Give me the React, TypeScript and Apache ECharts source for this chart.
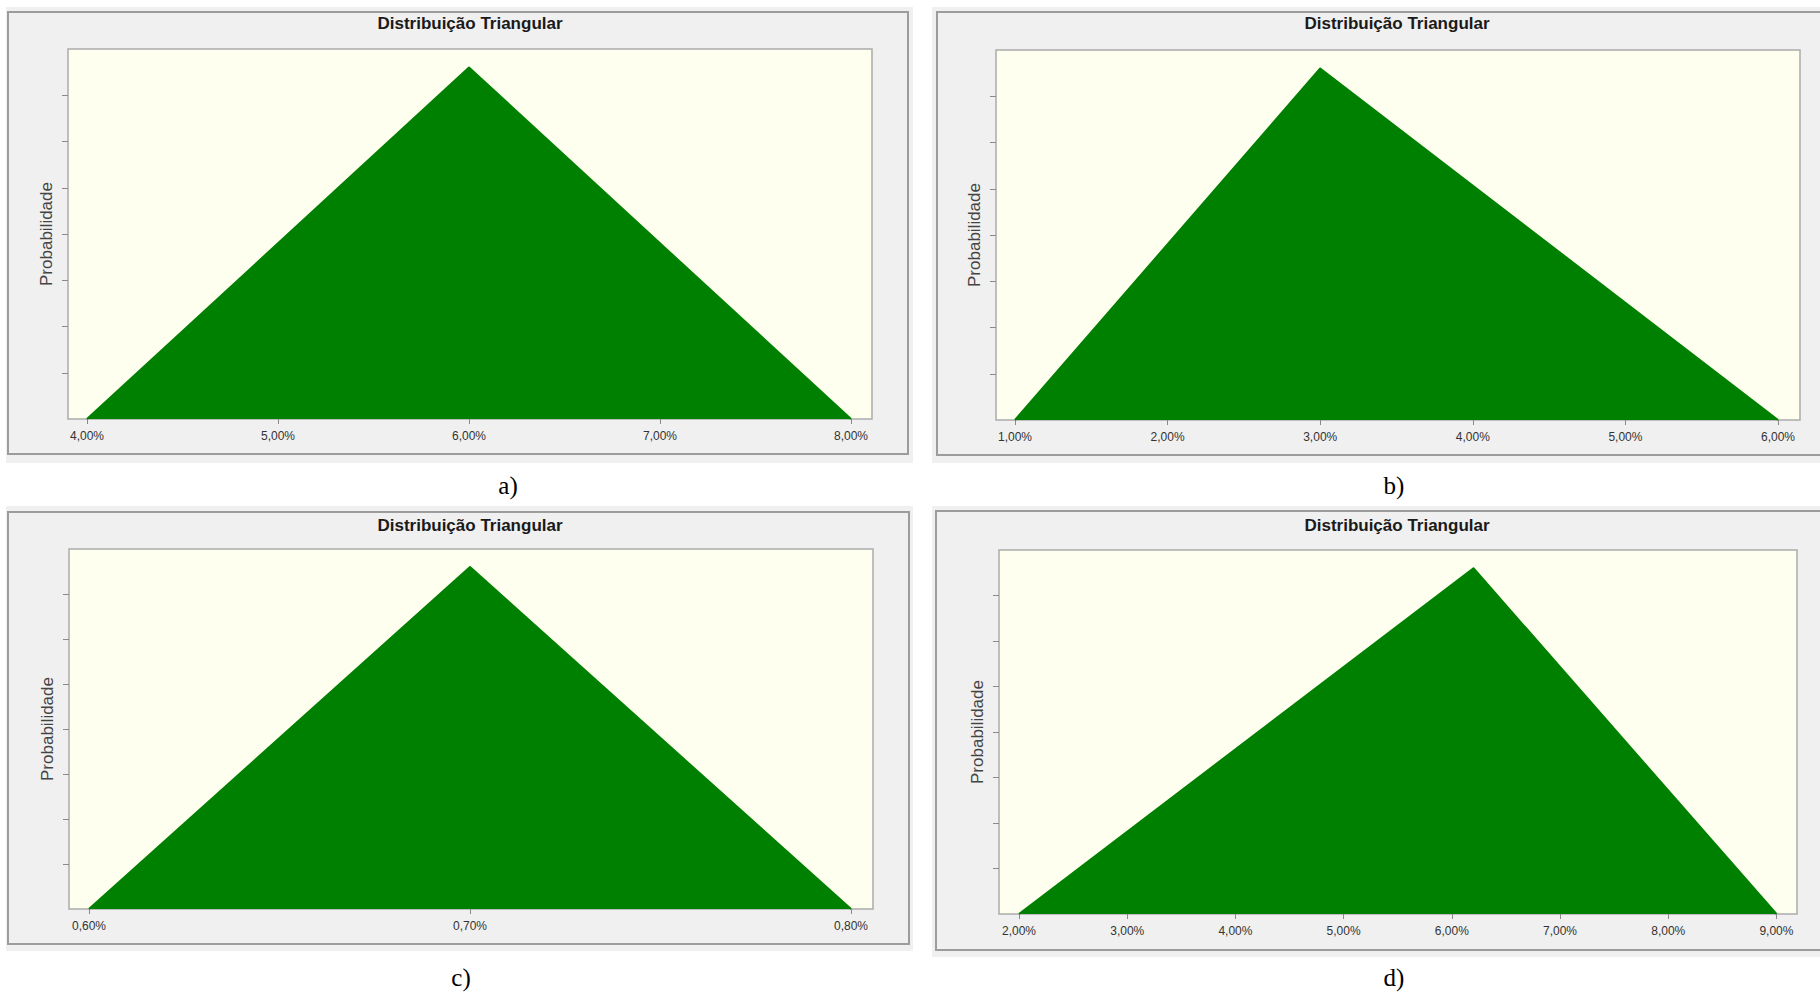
import React, { useEffect, useRef } from "react";
import * as echarts from "echarts";

// ---------- texts ----------
const TITLE = "Distribuição Triangular";
const Y_NAME = "Probabilidade";
const PANEL_LABELS = ["a)", "b)", "c)", "d)"];

// ---------- x-axis tick labels (percent) ----------
const ticksA = [4, 5, 6, 7, 8];
const ticksB = [1, 2, 3, 4, 5, 6];
const ticksC = [0.6, 0.7, 0.8];
const ticksD = [2, 3, 4, 5, 6, 7, 8, 9];

// ---------- triangle vertices: x = [min, mode, max] (%), y = relative density ----------
const xA = [4, 6, 8];
const yA = [0, 7.6, 0];
const xB = [1, 3, 6];
const yB = [0, 7.6, 0];
const xC = [0.6, 0.7, 0.8];
const yC = [0, 7.6, 0];
const xD = [2, 6.2, 9];
const yD = [0, 7.6, 0];

// ---------- y-axis scale (unlabelled ticks) ----------
const Y_MIN = 0;
const Y_MAX = 8;
const Y_STEP = 1;
const yTicks = [1, 2, 3, 4, 5, 6, 7];

const GREEN = "#008000";
const FONT = "'Liberation Sans', Arial, sans-serif";

const panels = [
  { grid: { left: 68, top: 49, width: 804, height: 370 }, xMin: 3.9005, xMax: 8.11, ticks: ticksA, xs: xA, ys: yA },
  { grid: { left: 996, top: 50, width: 804, height: 370 }, xMin: 0.8755, xMax: 6.144, ticks: ticksB, xs: xB, ys: yB },
  { grid: { left: 69, top: 549, width: 804, height: 360 }, xMin: 0.59475, xMax: 0.80577, ticks: ticksC, xs: xC, ys: yC },
  { grid: { left: 999, top: 550, width: 798, height: 364 }, xMin: 1.815, xMax: 9.19, ticks: ticksD, xs: xD, ys: yD },
];

const frames = [
  { bg: [6, 7, 907, 456], border: [8, 12, 900, 442] },
  { bg: [932, 7, 900, 456], border: [937, 12, 900, 443] },
  { bg: [6, 506, 907, 445], border: [8, 512, 901, 432] },
  { bg: [932, 506, 900, 451], border: [936, 511, 900, 439] },
];

const titlePos = [
  [470, 15],
  [1397, 15],
  [470, 517],
  [1397, 517],
];
const labelPos = [
  [508, 473],
  [1394, 473],
  [461, 965],
  [1394, 965],
];

const fmt = (v: number) => v.toFixed(2).replace(".", ",") + "%";

export default function App() {
  const ref = useRef<HTMLDivElement>(null);

  useEffect(() => {
    if (!ref.current) return;
    const chart = echarts.init(ref.current, undefined, { renderer: "svg" });

    const graphic: any[] = [];
    frames.forEach((f) => {
      graphic.push({
        type: "rect",
        z: -10,
        shape: { x: f.bg[0], y: f.bg[1], width: f.bg[2], height: f.bg[3] },
        style: { fill: "#f0f0f0" },
        silent: true,
      });
      graphic.push({
        type: "rect",
        z: -9,
        shape: { x: f.border[0], y: f.border[1], width: f.border[2], height: f.border[3] },
        style: { fill: "none", stroke: "#9c9c9c", lineWidth: 2 },
        silent: true,
      });
    });

    const title: any[] = [];
    titlePos.forEach((p) => {
      title.push({
        text: TITLE,
        left: p[0],
        top: p[1],
        textAlign: "center",
        padding: 0,
        textStyle: { fontFamily: FONT, fontSize: 17, fontWeight: "bold", color: "#1a1a1a" },
      });
    });
    labelPos.forEach((p, i) => {
      title.push({
        text: PANEL_LABELS[i],
        left: p[0],
        top: p[1],
        textAlign: "center",
        padding: 0,
        textStyle: { fontFamily: "'Liberation Serif', 'Times New Roman', serif", fontSize: 25, fontWeight: "normal", color: "#000" },
      });
    });

    const grid = panels.map((p) => ({
      ...p.grid,
      show: true,
      backgroundColor: "#fffff0",
      borderColor: "#ababab",
      borderWidth: 1.5,
      containLabel: false,
    }));

    const xAxis = panels.map((p, i) => ({
      type: "value",
      gridIndex: i,
      min: p.xMin,
      max: p.xMax,
      axisLine: { show: false },
      splitLine: { show: false },
      axisTick: {
        show: true,
        length: 5,
        customValues: p.ticks,
        lineStyle: { color: "#8a8a8a", width: 1 },
      },
      axisLabel: {
        show: true,
        margin: 11,
        customValues: p.ticks,
        formatter: (v: number) => fmt(v),
        fontFamily: FONT,
        fontSize: 12,
        color: "#333",
      },
    }));

    const yAxis = panels.map((p, i) => ({
      type: "value",
      gridIndex: i,
      min: Y_MIN,
      max: Y_MAX,
      interval: Y_STEP,
      name: Y_NAME,
      nameLocation: "middle",
      nameGap: 13,
      nameTextStyle: { fontFamily: FONT, fontSize: 17, color: "#444" },
      axisLine: { show: false },
      splitLine: { show: false },
      axisLabel: { show: false },
      axisTick: {
        show: true,
        length: 6,
        customValues: yTicks,
        lineStyle: { color: "#8a8a8a", width: 1 },
      },
    }));

    const series = panels.map((p, i) => ({
      type: "line",
      xAxisIndex: i,
      yAxisIndex: i,
      data: p.xs.map((x, k) => [x, p.ys[k]]),
      symbol: "none",
      silent: true,
      lineStyle: { color: GREEN, width: 2, join: "round" },
      itemStyle: { color: GREEN },
      areaStyle: { color: GREEN, opacity: 1 },
    }));

    chart.setOption({
      animation: false,
      backgroundColor: "#ffffff",
      graphic,
      title,
      grid,
      xAxis,
      yAxis,
      series,
    });

    return () => chart.dispose();
  }, []);

  return (
    <div
      ref={ref}
      style={{ position: "absolute", left: 0, top: 0, width: 1820, height: 992 }}
    />
  );
}
